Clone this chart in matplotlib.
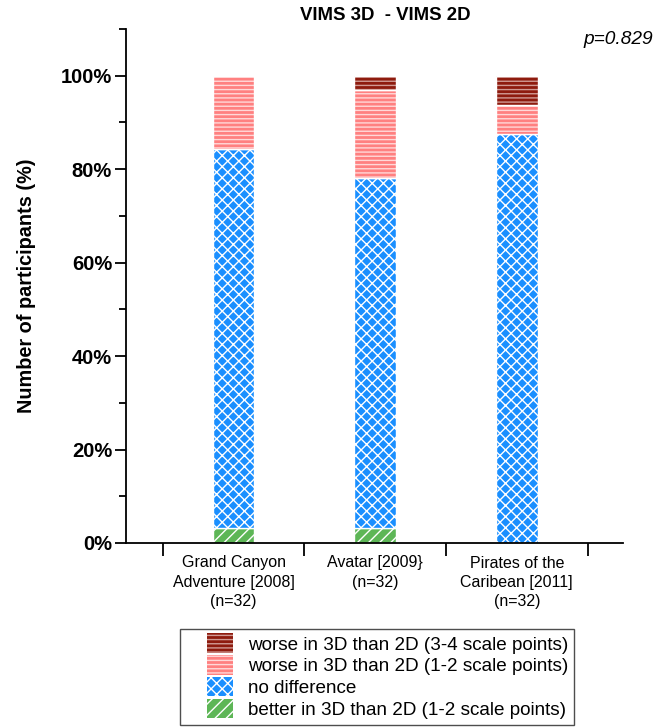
import numpy as np
import matplotlib
matplotlib.use("Agg")
import matplotlib.pyplot as plt
from matplotlib.patches import Patch, Rectangle
from matplotlib.legend_handler import HandlerPatch
from matplotlib.ticker import MultipleLocator, FuncFormatter

plt.rcParams["font.family"] = ["Liberation Sans", "DejaVu Sans"]
plt.rcParams["hatch.linewidth"] = 1.0

# participants per answer (n=32 per film)
categories = ["Grand Canyon\nAdventure [2008]\n(n=32)",
              "Avatar [2009}\n(n=32)",
              "Pirates of the\nCaribean [2011]\n(n=32)"]
n_total = [32, 32, 32]
better_12 = [1, 1, 0]
no_diff = [26, 24, 28]
worse_12 = [5, 6, 2]
worse_34 = [0, 1, 2]

series_labels = ["better in 3D than 2D (1-2 scale points)",
                 "no difference",
                 "worse in 3D than 2D (1-2 scale points)",
                 "worse in 3D than 2D (3-4 scale points)"]
colors = ["#5DB656", "#1A8FFF", "#FF8080", "#8E1B0E"]
hatches = ["///", "xxx", "----", "----"]
hatch_cols = ["white", "white", "#FFD8D8", "#D09A94"]


def small_box(legend, orig_handle, xdescent, ydescent, width, height, fontsize):
    # square marker sitting right of the handle area, like the original legend
    w, h = 19, 14
    return Rectangle((-xdescent + 15, -ydescent + (height - h) / 2), w, h)


fig = plt.figure(figsize=(6.6, 7.27), dpi=100)
ax = fig.add_axes([126 / 660, 1 - 543 / 727, (623 - 126) / 660, (543 - 29) / 727])

x = np.arange(len(categories))
n = np.array(n_total, dtype=float)
data = [np.array(s) / n * 100 for s in (better_12, no_diff, worse_12, worse_34)]

bottom = np.zeros(len(categories))
handles = []
for vals, col, hat, hc, lab in zip(data, colors, hatches, hatch_cols, series_labels):
    ax.bar(x, vals, 0.295, bottom=bottom, color=col, edgecolor=hc,
           hatch=hat, linewidth=0)
    # thin white separators between segments
    ax.bar(x, vals, 0.295, bottom=bottom, facecolor="none", edgecolor="white",
           linewidth=1.0)
    bottom += vals
    handles.append(Patch(facecolor=col, edgecolor=hc, hatch=hat, linewidth=0, label=lab))

ax.set_xlim(-0.76, 2.75)
ax.set_ylim(0, 110)

for side in ["top", "right"]:
    ax.spines[side].set_visible(False)
for side in ["left", "bottom"]:
    ax.spines[side].set_linewidth(1.3)

ax.yaxis.set_major_locator(MultipleLocator(20))
ax.yaxis.set_minor_locator(MultipleLocator(10))
ax.yaxis.set_major_formatter(FuncFormatter(lambda v, p: f"{v:.0f}%" if v <= 100 else ""))
ax.tick_params(axis="y", which="major", length=8, width=1.3, labelsize=14.5, pad=2)
ax.tick_params(axis="y", which="minor", length=5, width=1.3)
for t in ax.get_yticklabels():
    t.set_fontweight("bold")

ax.set_xticks([-0.5, 0.5, 1.5, 2.5])
ax.set_xticklabels([])
ax.set_xticks(x, minor=True)
ax.set_xticklabels(categories, minor=True, fontsize=11.5, linespacing=1.35)
ax.tick_params(axis="x", which="major", length=9, width=1.3)
ax.tick_params(axis="x", which="minor", length=0, pad=9)

ax.set_ylabel("Number of participants (%)", fontsize=14.3, fontweight="bold", labelpad=18)

fig.text(385 / 660, 1 - 15 / 727, "VIMS 3D  - VIMS 2D", ha="center", va="center",
         fontsize=13.4, fontweight="bold")
fig.text(653 / 660, 1 - 40 / 727, "p=0.829", ha="right", va="center",
         fontsize=13.8, style="italic")

leg = fig.legend(handles[::-1], series_labels[::-1], loc="upper left",
                 bbox_to_anchor=(180 / 660, 1 - 629 / 727), fontsize=13.6,
                 frameon=True, fancybox=False, edgecolor="#222222",
                 handlelength=2.9, handleheight=1.0, handletextpad=0.4,
                 labelspacing=0.15, borderpad=0.3, borderaxespad=0,
                 handler_map={Patch: HandlerPatch(patch_func=small_box)})
leg.get_frame().set_linewidth(1.0)

plt.savefig("out.png", dpi=100)
plt.close()
